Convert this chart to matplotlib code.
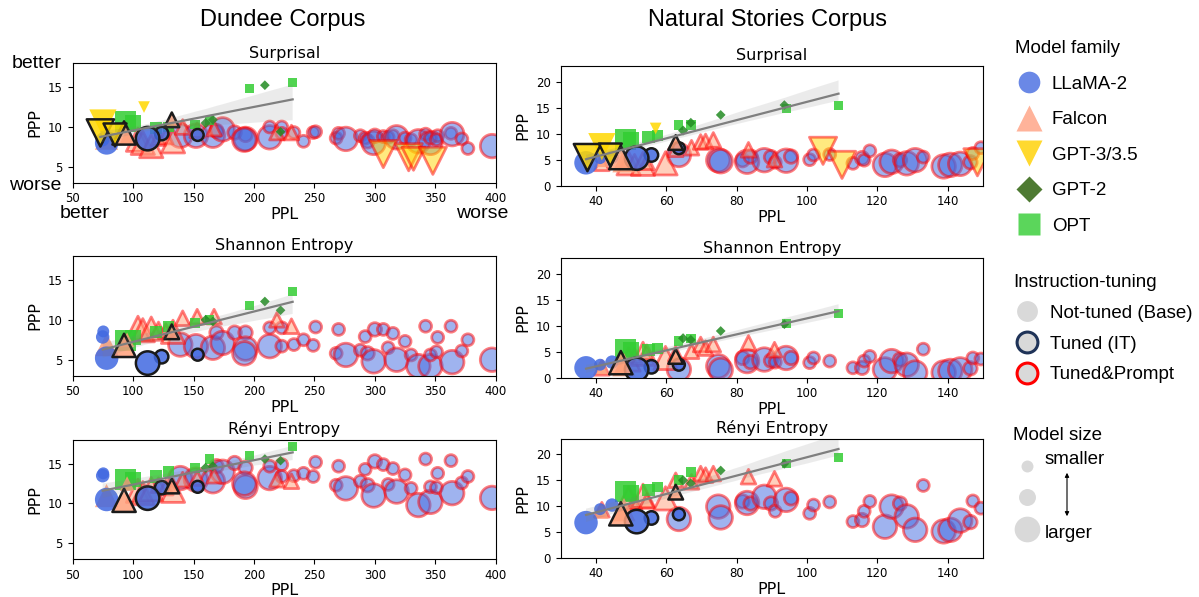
import numpy as np
import matplotlib.pyplot as plt
import seaborn as sns
from matplotlib.colors import to_rgba
from matplotlib.lines import Line2D

METRICS = ['Surprisal', 'Shannon Entropy', 'Rényi Entropy']

# ---------------- Dundee corpus ----------------
# model sizes are in billions of parameters
dun_llama_base_ppl = [75.3, 74.8, 78.1]
dun_llama_base_size = [7, 13, 70]
dun_llama_base_ppp = [[8.6, 8.4, 8.0], [8.55, 7.85, 5.2], [13.8, 13.5, 10.5]]

dun_llama_it_ppl = [153.4, 123.6, 112.0]
dun_llama_it_size = [7, 13, 70]
dun_llama_it_ppp = [[9.0, 9.17, 8.54], [5.63, 5.38, 4.58], [12.1, 12.0, 10.67]]

dun_llama_prm_ppl = [139, 152, 166, 169, 174, 184, 193, 193, 192, 213, 213, 223, 223, 233,
                     241, 249, 251, 268, 270, 276, 288, 292, 294, 299, 300, 307, 311, 315,
                     318, 325, 330, 336, 342, 346, 346, 352, 351, 363, 364, 372, 377, 397]
dun_llama_prm_size = [70, 70, 70, 13, 70, 13, 13, 70, 70, 70, 7, 7, 7, 7,
                      7, 7, 7, 7, 7, 70, 7, 7, 13, 70, 13, 7, 7, 7,
                      70, 7, 7, 70, 7, 70, 7, 7, 7, 7, 70, 7, 7, 70]
dun_llama_prm_surp = [8.9, 8.9, 8.9, 9.5, 9.7, 9.3, 9.0, 8.5, 8.4, 8.7, 10.0, 10.0, 9.2, 9.3,
                      8.2, 9.3, 9.4, 8.6, 9.2, 8.5, 8.9, 8.6, 8.2, 8.0, 8.9, 8.8, 8.7, 8.9,
                      8.7, 8.6, 8.4, 8.2, 9.1, 8.0, 8.6, 8.9, 8.4, 9.2, 9.1, 8.5, 7.3, 7.6]
dun_llama_prm_shan = [6.9, 6.7, 6.5, 8.4, 7.1, 8.4, 8.4, 6.4, 5.8, 6.7, 9.0, 9.0, 6.7, 6.9,
                      7.5, 6.8, 9.1, 5.8, 8.8, 5.6, 6.2, 7.9, 5.8, 4.8, 8.8, 8.8, 6.5, 8.3,
                      5.0, 7.3, 5.6, 4.2, 9.2, 4.2, 5.6, 7.8, 6.0, 9.2, 4.7, 6.1, 7.5, 5.0]
dun_llama_prm_renyi = [13.2, 13.0, 12.8, 14.7, 14.0, 15.1, 14.5, 12.1, 12.5, 13.2, 14.7, 14.9, 13.4, 13.5,
                       13.8, 13.4, 15.2, 12.3, 14.7, 11.9, 12.8, 14.3, 12.3, 11.0, 15.3, 14.9, 12.4, 14.4,
                       11.5, 13.6, 11.9, 9.8, 15.6, 10.2, 12.1, 13.8, 12.0, 15.4, 11.3, 12.6, 13.4, 10.7]

dun_falcon_base_ppl = [95, 78]
dun_falcon_base_size = [7, 40]
dun_falcon_base_ppp = [[8.8, 8.6], [7.5, 6.9], [12.5, 11.0]]

dun_falcon_it_ppl = [132, 92.5]
dun_falcon_it_size = [7, 40]
dun_falcon_it_ppp = [[10.9, 9.25], [8.5, 6.8], [12.2, 10.4]]

dun_falcon_prm_ppl = [104, 108, 115, 121, 127, 133, 141, 153, 167, 219, 231]
dun_falcon_prm_size = [40, 40, 40, 7, 7, 40, 7, 7, 7, 7, 7]
dun_falcon_prm_surp = [8.4, 8.0, 7.6, 8.6, 8.8, 8.2, 10.0, 9.6, 9.8, 9.3, 9.3]
dun_falcon_prm_shan = [9.0, 8.7, 8.9, 8.8, 8.6, 8.5, 10.2, 10.4, 10.4, 10.0, 9.2]
dun_falcon_prm_renyi = [11.6, 11.3, 11.8, 12.3, 12.0, 11.6, 13.0, 13.2, 13.5, 13.0, 12.8]

# GPT-3/3.5 only has surprisal values
dun_gpt3_base_ppl = [75, 109]
dun_gpt3_base_size = [175, 20]
dun_gpt3_base_surp = [10.5, 12.5]
dun_gpt3_it_ppl = [72.9, 85]
dun_gpt3_it_size = [175, 120]
dun_gpt3_it_surp = [9.25, 9.0]
dun_gpt3_prm_ppl = [307, 328, 332, 348]
dun_gpt3_prm_size = [175, 175, 120, 175]
dun_gpt3_prm_surp = [6.6, 6.2, 6.0, 5.75]

dun_gpt2_ppl = [222, 209, 166, 160]
dun_gpt2_size = [0.124, 0.355, 0.774, 1.5]
dun_gpt2_ppp = [[9.4, 15.25, 10.9, 10.5], [11.2, 12.3, 9.8, 10.0], [15.4, 15.6, 14.7, 14.5]]

dun_opt_ppl = [232, 196, 163, 151, 129, 119, 100, 94]
dun_opt_size = [0.125, 0.35, 1.3, 2.7, 6.7, 13, 30, 66]
dun_opt_ppp = [[15.6, 14.8, 10.8, 10.3, 10.0, 9.9, 10.5, 10.7],
               [13.5, 11.8, 10.0, 9.6, 9.2, 8.5, 7.8, 7.4],
               [17.2, 16.1, 15.6, 14.45, 14.0, 13.4, 13.0, 13.0]]

# ---------------- Natural Stories corpus ----------------
ns_llama_base_ppl = [41.2, 44.6, 37.2]
ns_llama_base_size = [7, 13, 70]
ns_llama_base_ppp = [[5.3, 5.5, 4.4], [2.5, 3.0, 1.9], [9.4, 10.2, 6.8]]

ns_llama_it_ppl = [63.6, 55.8, 51.6]
ns_llama_it_size = [7, 13, 70]
ns_llama_it_ppp = [[7.2, 5.9, 5.3], [2.5, 2.1, 1.6], [8.4, 7.7, 7.0]]

ns_llama_prm_ppl = [63.6, 74.8, 75.5, 81.7, 83.0, 84.0, 87.9, 89.8, 91.0, 94.1, 95.5, 100.8, 101.9, 106.5, 113.1,
                    115.7, 116.3, 117.9, 122.2, 124.1, 126.5, 128.4, 130.8, 133.1, 138.9, 140.8, 143.6, 146.5, 147.2, 149.5]
ns_llama_prm_size = [70, 70, 70, 13, 70, 13, 70, 13, 7, 70, 13, 7, 7, 7, 7,
                     13, 7, 7, 70, 70, 13, 70, 70, 7, 70, 70, 70, 13, 7, 7]
ns_llama_prm_surp = [5.9, 4.9, 4.7, 4.9, 4.6, 5.6, 4.9, 5.5, 4.5, 4.8, 5.6, 5.0, 5.9, 6.0, 4.3,
                     5.3, 4.9, 6.7, 4.0, 4.6, 4.9, 4.3, 4.9, 5.5, 3.7, 4.0, 4.2, 4.5, 6.2, 7.3]
ns_llama_prm_shan = [1.6, 2.2, 1.5, 3.8, 3.2, 3.0, 3.5, 3.3, 3.0, 3.8, 3.8, 2.9, 3.8, 3.2, 1.9,
                     1.9, 3.2, 4.1, 1.6, 3.2, 3.5, 2.5, 1.0, 5.5, 1.0, 1.3, 1.6, 1.8, 3.8, 3.6]
ns_llama_prm_renyi = [7.5, 9.9, 7.8, 10.9, 10.6, 10.5, 11.8, 10.5, 9.0, 11.2, 11.5, 8.6, 10.2, 10.8, 7.0,
                      7.3, 9.0, 10.9, 6.0, 9.9, 10.5, 8.0, 5.4, 14.0, 5.1, 5.4, 7.2, 6.9, 11.0, 9.6]

ns_falcon_base_ppl = [41.5, 48]
ns_falcon_base_size = [7, 40]
ns_falcon_base_ppp = [[5.0, 4.8], [2.1, 2.5], [9.0, 9.3]]

ns_falcon_it_ppl = [62.7, 47.1]
ns_falcon_it_size = [7, 40]
ns_falcon_it_ppp = [[8.3, 5.4], [4.1, 2.9], [12.7, 8.5]]

ns_falcon_prm_ppl = [41.7, 49.3, 51.0, 53.4, 54.5, 59.8, 62.7, 67.2, 69.8, 71.2, 73.4, 83.4, 90.8]
ns_falcon_prm_size = [7, 40, 7, 40, 7, 40, 7, 7, 7, 7, 7, 7, 7]
ns_falcon_prm_surp = [4.3, 4.3, 4.6, 4.2, 4.5, 4.3, 7.0, 7.3, 8.4, 8.5, 8.8, 6.9, 5.0]
ns_falcon_prm_shan = [1.9, 3.5, 4.2, 4.6, 4.9, 3.8, 4.6, 5.1, 6.4, 5.7, 6.4, 6.7, 5.4]
ns_falcon_prm_renyi = [9.3, 11.5, 10.8, 12.0, 11.0, 11.5, 15.0, 14.7, 16.3, 16.0, 16.3, 15.7, 15.3]

ns_gpt3_base_ppl = [41.7, 57]
ns_gpt3_base_size = [175, 20]
ns_gpt3_base_surp = [7.5, 11.0]
ns_gpt3_it_ppl = [37.6, 44.1]
ns_gpt3_it_size = [175, 120]
ns_gpt3_it_surp = [5.4, 5.9]
ns_gpt3_prm_ppl = [104.6, 110, 148.5]
ns_gpt3_prm_size = [175, 175, 175]
ns_gpt3_prm_surp = [6.7, 4.0, 4.5]

ns_gpt2_ppl = [93.6, 75.5, 67, 64.8]
ns_gpt2_size = [0.124, 0.355, 0.774, 1.5]
ns_gpt2_ppp = [[15.5, 13.6, 12.1, 10.6], [10.3, 9.0, 7.3, 7.6], [18.2, 16.9, 14.4, 15.0]]

ns_opt_ppl = [109, 94.3, 67, 63.5, 57.5, 55, 50, 48.4]
ns_opt_size = [0.125, 0.35, 1.3, 2.7, 6.7, 13, 30, 66]
ns_opt_ppp = [[15.5, 14.9, 11.7, 11.7, 9.7, 9.4, 8.8, 8.8],
              [12.4, 10.4, 7.6, 7.0, 5.7, 5.3, 5.4, 5.4],
              [19.5, 18.2, 16.6, 15.0, 13.7, 13.1, 12.5, 12.8]]

# ---------------- styles ----------------
FAM = {'llama': ('o', '#4169E1', 1.25), 'falcon': ('^', '#FFA07A', 1.9),
       'gpt3': ('v', '#FFD700', 0.75), 'gpt2': ('D', '#228B22', 0.6), 'opt': ('s', '#32CD32', 1.05)}
LEG_FAM = ['#6A88E6', '#FFB39A', '#FFD92F', '#4E7A32', '#5BD65B']


def sz(size, k):
    return k * (40 + 2.7 * np.asarray(size, float))


def draw(ax, fam, tune, x, y, size):
    marker, col, k = FAM[fam]
    if tune == 'base':
        ax.scatter(x, y, s=sz(size, k), marker=marker, color=to_rgba(col, 0.85), edgecolors='none')
    elif tune == 'it':
        ax.scatter(x, y, s=sz(size, k), marker=marker, facecolors=to_rgba(col, 0.85),
                   edgecolors='#1a1a1a', linewidths=1.8)
    else:
        ax.scatter(x, y, s=sz(size, k), marker=marker, facecolors=to_rgba(col, 0.5),
                   edgecolors=to_rgba('red', 0.5), linewidths=2)


def corpus_groups(c):
    g = globals()
    p = c + '_'
    groups = []
    for m in range(3):
        grp = [
            ('llama', 'prompt', g[p + 'llama_prm_ppl'], [g[p + 'llama_prm_surp'], g[p + 'llama_prm_shan'], g[p + 'llama_prm_renyi']][m], g[p + 'llama_prm_size']),
            ('falcon', 'prompt', g[p + 'falcon_prm_ppl'], [g[p + 'falcon_prm_surp'], g[p + 'falcon_prm_shan'], g[p + 'falcon_prm_renyi']][m], g[p + 'falcon_prm_size']),
        ]
        if m == 0:
            grp.append(('gpt3', 'prompt', g[p + 'gpt3_prm_ppl'], g[p + 'gpt3_prm_surp'], g[p + 'gpt3_prm_size']))
        grp += [
            ('opt', 'base', g[p + 'opt_ppl'], g[p + 'opt_ppp'][m], g[p + 'opt_size']),
            ('gpt2', 'base', g[p + 'gpt2_ppl'], g[p + 'gpt2_ppp'][m], g[p + 'gpt2_size']),
            ('falcon', 'base', g[p + 'falcon_base_ppl'], g[p + 'falcon_base_ppp'][m], g[p + 'falcon_base_size']),
            ('llama', 'base', g[p + 'llama_base_ppl'], g[p + 'llama_base_ppp'][m], g[p + 'llama_base_size']),
        ]
        if m == 0:
            grp.append(('gpt3', 'base', g[p + 'gpt3_base_ppl'], g[p + 'gpt3_base_surp'], g[p + 'gpt3_base_size']))
        grp += [
            ('llama', 'it', g[p + 'llama_it_ppl'], g[p + 'llama_it_ppp'][m], g[p + 'llama_it_size']),
            ('falcon', 'it', g[p + 'falcon_it_ppl'], g[p + 'falcon_it_ppp'][m], g[p + 'falcon_it_size']),
        ]
        if m == 0:
            grp.append(('gpt3', 'it', g[p + 'gpt3_it_ppl'], g[p + 'gpt3_it_surp'], g[p + 'gpt3_it_size']))
        groups.append(grp)
    return groups


W, H = 1199, 597
fig = plt.figure(figsize=(W / 100, H / 100), dpi=100)
ARIAL = 'Liberation Sans'

# axes boxes in pixels: left, top, right, bottom
boxes = {
    'dun': [(72.7, 63.3, 495.7, 182.7), (72.7, 256.0, 495.7, 375.7), (72.7, 440.0, 495.7, 559.0)],
    'ns': [(560.7, 66.0, 982.7, 185.7), (560.7, 258.3, 982.7, 377.7), (560.7, 439.0, 982.7, 557.7)],
}

for c in ['dun', 'ns']:
    groups = corpus_groups(c)
    for m in range(3):
        l, t, r, b = boxes[c][m]
        ax = fig.add_axes([l / W, 1 - b / H, (r - l) / W, (b - t) / H])
        xs, ys = [], []
        for fam, tune, x, y, size in groups[m]:
            draw(ax, fam, tune, x, y, size)
            if tune != 'prompt':
                xs += list(x)
                ys += list(y)
        sns.regplot(x=np.array(xs), y=np.array(ys), scatter=False, ax=ax, color='#7f7f7f',
                    ci=95, seed=1, line_kws=dict(lw=1.6))
        if c == 'dun':
            ax.set_xlim(50, 400)
            ax.set_ylim(3, 18)
            ax.set_yticks([5, 10, 15])
        else:
            ax.set_xlim(30, 150)
            ax.set_ylim(0, 23)
            ax.set_yticks([0, 5, 10, 15, 20])
            ax.set_xticks([40, 60, 80, 100, 120, 140])
        ax.tick_params(labelsize=8.5)
        ax.set_xlabel('PPL', fontsize=11.5, labelpad=1)
        ax.set_ylabel('PPP', fontsize=11.5)
        ax.set_title(METRICS[m], fontsize=11.5, pad=4)

fig.text(283 / W, 1 - 20 / H, 'Dundee Corpus', ha='center', va='center', fontsize=17, family=ARIAL)
fig.text(767 / W, 1 - 20 / H, 'Natural Stories Corpus', ha='center', va='center', fontsize=17, family=ARIAL)
fig.text(37 / W, 1 - 63 / H, 'better', ha='center', va='center', fontsize=14, family=ARIAL)
fig.text(35 / W, 1 - 185 / H, 'worse', ha='center', va='center', fontsize=14, family=ARIAL)
fig.text(85 / W, 1 - 214 / H, 'better', ha='center', va='center', fontsize=14, family=ARIAL)
fig.text(482 / W, 1 - 214 / H, 'worse', ha='center', va='center', fontsize=14, family=ARIAL)

# ---------------- legends ----------------
fam_labels = ['LLaMA-2', 'Falcon', 'GPT-3/3.5', 'GPT-2', 'OPT']
fam_markers = ['o', '^', 'v', 'D', 's']
fam_ms = [15.6, 19, 19, 13, 15.6]
h_fam = [Line2D([], [], ls='none', marker=mk, ms=ms, mfc=cl, mec='none', label=lb)
         for mk, ms, cl, lb in zip(fam_markers, fam_ms, LEG_FAM, fam_labels)]
tune_labels = ['Not-tuned (Base)', 'Tuned (IT)', 'Tuned&Prompt']
tune_edges = ['none', '#1F3358', 'red']
h_tune = [Line2D([], [], ls='none', marker='o', ms=15, mfc='#D9D9D9', mec=e, mew=2.2, label=lb)
          for e, lb in zip(tune_edges, tune_labels)]
size_ms = [8.6, 12.2, 18.5]
h_size = [Line2D([], [], ls='none', marker='o', ms=ms, mfc='#D9D9D9', mec='none', label=' ')
          for ms in size_ms]

leg_kw = dict(loc='upper left', frameon=False, alignment='left', borderpad=0,
              handlelength=1.5, handletextpad=0.45, prop=dict(family=ARIAL, size=13.5),
              title_fontproperties=dict(family=ARIAL, size=13.5))
fig.legend(handles=h_fam, title='Model family', bbox_to_anchor=(1006 / W, 1 - 31 / H),
           labelspacing=0.98, **leg_kw)
fig.legend(handles=h_tune, title='Instruction-tuning', bbox_to_anchor=(1004 / W, 1 - 265 / H),
           labelspacing=0.72, **leg_kw)
fig.legend(handles=h_size, title='Model size', bbox_to_anchor=(1004 / W, 1 - 418 / H),
           labelspacing=0.78, **leg_kw)
fig.text(1045 / W, 1 - 460 / H, 'smaller', ha='left', va='center', fontsize=13.5, family=ARIAL)
fig.text(1045 / W, 1 - 534 / H, 'larger', ha='left', va='center', fontsize=13.5, family=ARIAL)
fig.add_artist(plt.Annotation('', xy=(1067 / W, 1 - 519 / H), xytext=(1067 / W, 1 - 470 / H),
                              xycoords='figure fraction',
                              arrowprops=dict(arrowstyle='<|-|>', color='black', lw=0.8,
                                              mutation_scale=6)))

fig.savefig('out.png', dpi=100)
